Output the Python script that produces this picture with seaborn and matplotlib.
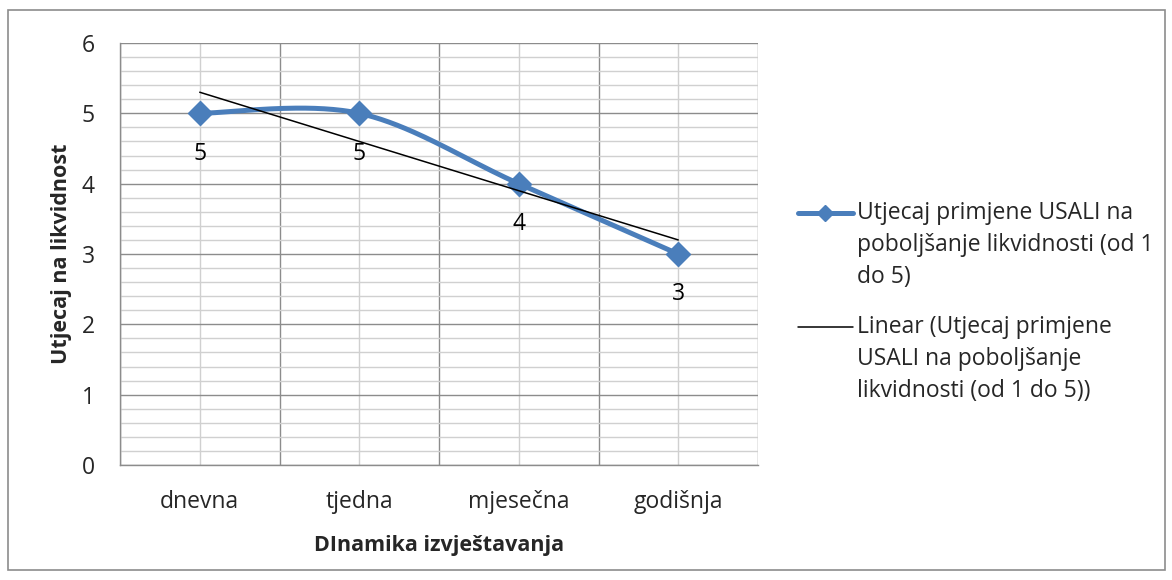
import numpy as np
import pandas as pd
import matplotlib
matplotlib.use("Agg")
import matplotlib.pyplot as plt
import seaborn as sns
from matplotlib.lines import Line2D
from matplotlib.patches import Rectangle

categories = ["dnevna", "tjedna", "mjesečna", "godišnja"]
values = [5, 5, 4, 3]
series_name = "Utjecaj primjene USALI na\npoboljšanje likvidnosti (od 1\ndo 5)"
trend_name = "Linear (Utjecaj primjene\nUSALI na poboljšanje\nlikvidnosti (od 1 do 5))"
x_title = "DInamika izvještavanja"
y_title = "Utjecaj na likvidnost"

sns.set_theme(style="white")
plt.rcParams['font.family'] = ['Open Sans', 'DejaVu Sans']

FS = 16.5
FSB = 15.5
BLUE = "#4A7EBB"
GRID_MAJ = "#8C8C8C"
GRID_MIN = "#D0D0D0"
W, H = 1172, 580

fig = plt.figure(figsize=(W/100, H/100), dpi=100)
ax = fig.add_axes([120/W, 1-465/H, (758-120)/W, (465-43)/H])

xs = np.arange(len(values), dtype=float)
ys = np.array(values, dtype=float)

# Excel-style smooth curve (Catmull-Rom Bezier) computed from data
def smooth(xp, yp, n=60):
    P = np.column_stack([xp, yp])
    out = []
    for i in range(len(P) - 1):
        p0 = P[i - 1] if i > 0 else P[i]
        p1 = P[i]
        p2 = P[i + 1]
        p3 = P[i + 2] if i + 2 < len(P) else P[i + 1]
        c1 = p1 + (p2 - p0) / 6
        c2 = p2 - (p3 - p1) / 6
        t = np.linspace(0, 1, n)[:, None]
        seg = (1-t)**3*p1 + 3*(1-t)**2*t*c1 + 3*(1-t)*t**2*c2 + t**3*p2
        out.append(seg if i == 0 else seg[1:])
    return np.vstack(out)

curve = smooth(xs, ys)
curve_df = pd.DataFrame({"x": curve[:, 0], "y": curve[:, 1]})
sns.lineplot(data=curve_df, x="x", y="y", ax=ax, color=BLUE, lw=3.6, sort=False,
             estimator=None, zorder=3)
pts = pd.DataFrame({"x": xs, "y": ys})
sns.scatterplot(data=pts, x="x", y="y", ax=ax, marker="D", s=150, color=BLUE,
                edgecolor=BLUE, zorder=4)

# linear trendline
coef = np.polyfit(xs, ys, 1)
trend = pd.DataFrame({"x": xs[[0, -1]], "y": np.polyval(coef, xs[[0, -1]])})
sns.lineplot(data=trend, x="x", y="y", ax=ax, color="black", lw=1.1, zorder=5)

for x, y in zip(xs, ys):
    ax.annotate(f"{y:g}", (x, y), xytext=(0, -29), textcoords="offset points",
                ha="center", va="center", fontsize=FS, color="black", zorder=6)

ax.set_xlim(-0.5, len(values) - 0.5)
ax.set_ylim(0, 6)
ax.set_xticks(np.arange(len(values) + 1) - 0.5)
ax.set_xticklabels([])
ax.set_xticks(xs, minor=True)
ax.set_xticklabels(categories, minor=True, fontsize=FS)
ax.set_yticks(np.arange(0, 7, 1))
ax.set_yticklabels([str(v) for v in range(7)], fontsize=FS)
ax.set_yticks(np.arange(0, 6.01, 0.2), minor=True)

ax.grid(True, which="major", color=GRID_MAJ, lw=1.0)
ax.grid(True, which="minor", color=GRID_MIN, lw=1.0)
ax.set_axisbelow(True)
ax.tick_params(axis="both", which="major", direction="out", length=5.5, width=1,
               color=GRID_MAJ, pad=4)
ax.tick_params(axis="x", which="minor", length=0, pad=18)
ax.tick_params(axis="y", which="minor", length=0)
ax.tick_params(axis="y", which="major", pad=12.5)
for s in ["top", "right"]:
    ax.spines[s].set_visible(False)
for s in ["left", "bottom"]:
    ax.spines[s].set_color(GRID_MAJ)
    ax.spines[s].set_linewidth(1.0)

ax.set_xlabel(x_title, fontsize=FSB, fontweight="bold", labelpad=15)
ax.set_ylabel(y_title, fontsize=FSB, fontweight="bold", labelpad=7)

# manual legend (handle aligned with the first text line)
def fx(px):
    return px / W

def fy(py):
    return 1 - py / H

entries = [
    (series_name, 213, dict(color=BLUE, lw=3.6, marker="D", markersize=8,
                            markevery=[1])),
    (trend_name, 327, dict(color="black", lw=1.1)),
]
for label, ytop, style in entries:
    fig.add_artist(Line2D([fx(798), fx(825), fx(853)], [fy(ytop)] * 3,
                          transform=fig.transFigure, **style))
    for k, line in enumerate(label.split("\n")):
        fig.text(fx(857), fy(ytop + 32 * k), line, fontsize=FS,
                 ha="left", va="center")

fig.patches.append(Rectangle((8/W, 1-570/H), (1165-8)/W, (570-10)/H,
                             transform=fig.transFigure, fill=False,
                             edgecolor="#8C8C8C", lw=1.2))

fig.savefig("out.png", dpi=100)
